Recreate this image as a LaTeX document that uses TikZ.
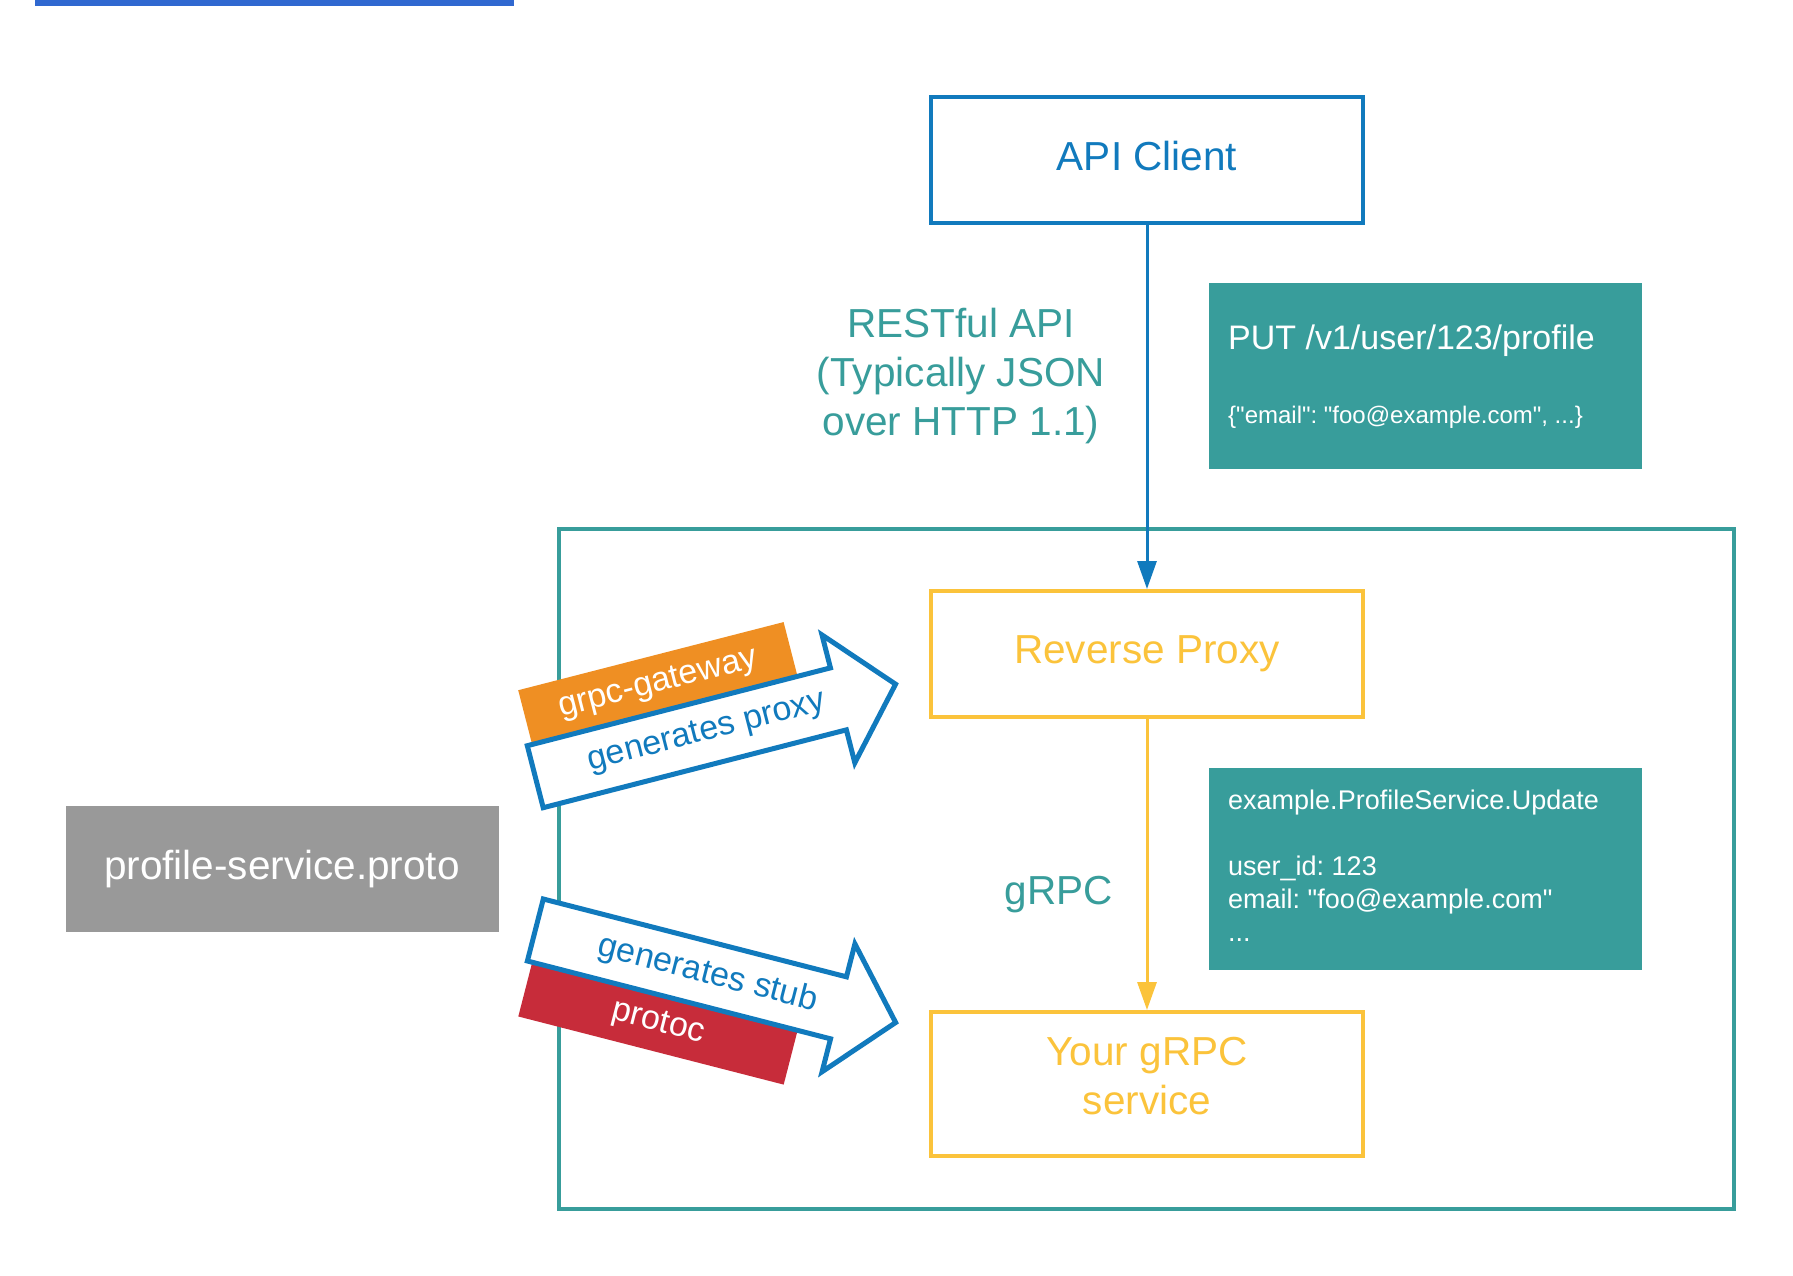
\documentclass[tikz,border=0pt]{standalone}
\usepackage{fontspec}
\setmainfont{Liberation Sans}[Ligatures=TeXOff]
\usetikzlibrary{arrows.meta}
\frenchspacing

\definecolor{cblue}{HTML}{117ABD}
\definecolor{cteal}{HTML}{389D9B}
\definecolor{cyellow}{HTML}{FBC33B}
\definecolor{corange}{HTML}{EF8F23}
\definecolor{cred}{HTML}{C72C3A}
\definecolor{cgray}{HTML}{999999}
\definecolor{cbar}{HTML}{3068D0}

\newcommand{\bigfont}{\fontsize{40.5}{49}\selectfont}
\newcommand{\tagfont}{\fontsize{34}{40}\selectfont}

\tikzset{
  stepbox/.style={draw, line width=4pt, minimum width=432pt, inner sep=0pt,
    font=\bigfont},
  notebox/.style={fill=cteal, draw=none, minimum width=433pt, inner sep=0pt},
  notetext/.style={text=white, inner sep=0pt, align=left},
  label/.style={text=cteal, inner sep=0pt, font=\bigfont},
  flow/.style={line width=3pt, -{Triangle[length=28pt,width=19pt]}},
  genarrow/.style={draw=cblue, fill=white, line width=5pt, line join=miter},
  tagtext/.style={inner sep=0pt, font=\tagfont, transform shape},
}

\begin{document}
\frenchspacing
\begin{tikzpicture}[x=1pt, y=-1pt]
  \useasboundingbox (0,0) rectangle (1793,1276);
  \fill[white] (0,0) rectangle (1793,1276);

  % header bar
  \fill[cbar] (35,0) rectangle (514,6.5);

  % gateway deployment frame
  \node[draw=cteal, line width=4pt, minimum width=1175pt, minimum height=680pt,
        inner sep=0pt] (frame) at (1146.5,869) {};

  % main components
  \node[stepbox, draw=cblue, text=cblue, minimum height=126pt,
        text height=22pt, text depth=0pt] (api) at (1147,160) {API Client};
  \node[stepbox, draw=cyellow, text=cyellow, minimum height=126pt] (proxy) at (1147,654) {Reverse Proxy};
  \node[stepbox, draw=cyellow, minimum height=144pt] (svc) at (1147,1084) {};
  \node[text=cyellow, font=\bigfont, align=center, inner sep=0pt] (svctext)
        at (1147,1076) {Your gRPC\\service};

  \node[fill=cgray, minimum width=433pt, minimum height=126pt, inner sep=0pt,
        text=white, font=\bigfont] (proto) at (282,869) {profile-service.proto};

  % connectors
  \draw[flow, cblue] (api.south) -- (proxy.north);
  \draw[flow, cyellow] (proxy.south) -- (svc.north);

  % protocol labels
  \node[label, align=center] (rest) at (961,376)
        {RESTful API\\(Typically JSON\\over HTTP 1.1)};
  \node[label, anchor=base] (grpc) at (1058.5,904) {gRPC};

  % request examples
  \node[notebox, minimum height=186pt] (putbox) at (1425.5,376) {};
  \node[notetext, anchor=base west, font=\fontsize{34}{40}\selectfont] (putline)
        at (1228,349) {PUT /v1/user/123/profile};
  \node[notetext, anchor=base west, font=\fontsize{24}{29}\selectfont] (putbody)
        at (1228,423) {\{"email": "foo@example.com", ...\}};

  \node[notebox, minimum height=202pt] (rpcbox) at (1425.5,869) {};
  \node[notetext, anchor=north west, font=\fontsize{27}{33}\selectfont] (rpcbody)
        at (1228,789.5) {example.ProfileService.Update\\[33pt]user\_id: 123\\email: "foo@example.com"\\...};

  % code generation: grpc-gateway
  \begin{scope}[shift={(527.3,745.7)}, rotate=14.4]
    \fill[corange] (5,-56) rectangle (279,0);
    \node[tagtext, text=white] (gwtag) at (142,-27) {grpc-gateway};
    \draw[genarrow] (0,0) -- (313,0) -- (313,-34) -- (372,32) -- (313,98)
      -- (313,64) -- (0,64) -- cycle;
    \node[tagtext, text=cblue] (gwlabel) at (177,32) {generates proxy};
  \end{scope}

  % code generation: protoc
  \begin{scope}[shift={(543.3,899)}, rotate=-14.4]
    \fill[cred] (5,64) rectangle (279,120);
    \node[tagtext, text=white] (pctag) at (142,92) {protoc};
    \draw[genarrow] (0,0) -- (313,0) -- (313,-34) -- (372,32) -- (313,98)
      -- (313,64) -- (0,64) -- cycle;
    \node[tagtext, text=cblue] (pclabel) at (178,32) {generates stub};
  \end{scope}
\end{tikzpicture}
\end{document}
